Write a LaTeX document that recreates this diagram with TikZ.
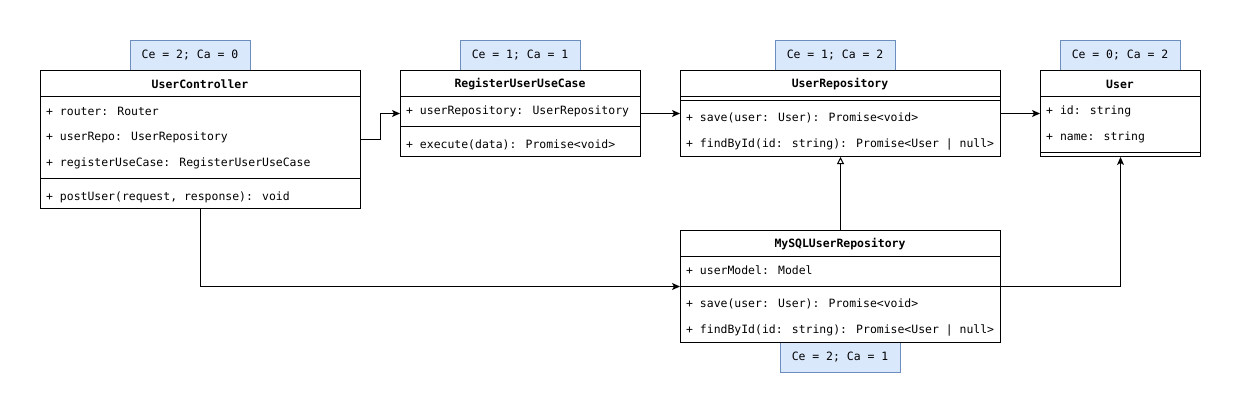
\documentclass[tikz,border=0pt]{standalone}
\usepackage{fontspec}
\newfontfamily\mono{DejaVu Sans Mono}
\usetikzlibrary{arrows.meta,calc}
\definecolor{badgefill}{HTML}{DAE8FC}
\definecolor{badgeline}{HTML}{6C8EBF}
\begin{document}
\begin{tikzpicture}[x=1pt,y=-1pt,
  every node/.style={font=\mono\fontsize{11.45}{13}\selectfont},
  cls/.style={draw, line width=1pt, anchor=north west, inner sep=0pt},
  badge/.style={draw=badgeline, fill=badgefill, line width=1pt, minimum width=120pt, minimum height=30pt, inner sep=0pt},
  hdr/.style={inner sep=0pt, font=\mono\bfseries\fontsize{11.45}{13}\selectfont},
  txt/.style={anchor=west, inner sep=0pt},
  sep/.style={line width=1pt},
  conn/.style={line width=1pt, -{Stealth[length=8pt,width=7pt,inset=2pt]}},
  inherit/.style={line width=1pt, -{Triangle[open,length=7pt,width=7pt]}}
]
\useasboundingbox (0,0) rectangle (1241,413);
\fill[white] (0,0) rectangle (1241,413);

% badges
\node[badge] (bUC) at (190,55) {Ce = 2; Ca = 0};
\node[badge] (bRUC) at (520,55) {Ce = 1; Ca = 1};
\node[badge] (bUR) at (835,55) {Ce = 1; Ca = 2};
\node[badge] (bU) at (1120,55) {Ce = 0; Ca = 2};
\node[badge] (bM) at (840,357) {Ce = 2; Ca = 1};

% UserController
\node[cls, minimum width=320pt, minimum height=138pt] (uc) at (40,70) {};
\node[hdr] (ucT) at (200,84) {UserController};
\draw[sep] (40,96) -- (360,96);
\node[txt] (uc1) at (46,111) {+ router: Router};
\node[txt] (uc2) at (46,137) {+ userRepo: UserRepository};
\node[txt] (uc3) at (46,163) {+ registerUseCase: RegisterUserUseCase};
\draw[sep] (40,178) -- (360,178);
\node[txt] (uc4) at (46,197) {+ postUser(request, response): void};

% RegisterUserUseCase
\node[cls, minimum width=240pt, minimum height=86pt] (ruc) at (400,70) {};
\node[hdr] (rucT) at (520,84) {RegisterUserUseCase};
\draw[sep] (400,96) -- (640,96);
\node[txt] (ruc1) at (406,111) {+ userRepository: UserRepository};
\draw[sep] (400,126) -- (640,126);
\node[txt] (ruc2) at (406,145) {+ execute(data): Promise<void>};

% UserRepository
\node[cls, minimum width=320pt, minimum height=86pt] (ur) at (680,70) {};
\node[hdr] (urT) at (840,84) {UserRepository};
\draw[sep] (680,96) -- (1000,96);
\draw[sep] (680,100) -- (1000,100);
\node[txt] (ur1) at (686,118) {+ save(user: User): Promise<void>};
\node[txt] (ur2) at (686,144) {+ findById(id: string): Promise<User | null>};

% User
\node[cls, minimum width=160pt, minimum height=86pt] (user) at (1040,70) {};
\node[hdr] (userT) at (1120,84) {User};
\draw[sep] (1040,96) -- (1200,96);
\node[txt] (user1) at (1046,111) {+ id: string};
\node[txt] (user2) at (1046,137) {+ name: string};
\draw[sep] (1040,152) -- (1200,152);

% MySQLUserRepository
\node[cls, minimum width=320pt, minimum height=112pt] (my) at (680,230) {};
\node[hdr] (myT) at (840,244) {MySQLUserRepository};
\draw[sep] (680,256) -- (1000,256);
\node[txt] (my1) at (686,270) {+ userModel: Model};
\draw[sep] (680,286) -- (1000,286);
\node[txt] (my2) at (686,304) {+ save(user: User): Promise<void>};
\node[txt] (my3) at (686,330) {+ findById(id: string): Promise<User | null>};

% connectors
\draw[conn] (uc.east) -- ($(uc.east)!0.5!(ruc.west |- uc.east)$) |- (ruc.west);
\draw[conn] (ruc.east) -- (ur.west);
\draw[conn] (ur.east) -- (user.west);
\draw[inherit] (my.north) -- (ur.south);
\draw[conn] (uc.south) |- (my.west);
\draw[conn] (my.east) -| (user.south);
\end{tikzpicture}
\end{document}
